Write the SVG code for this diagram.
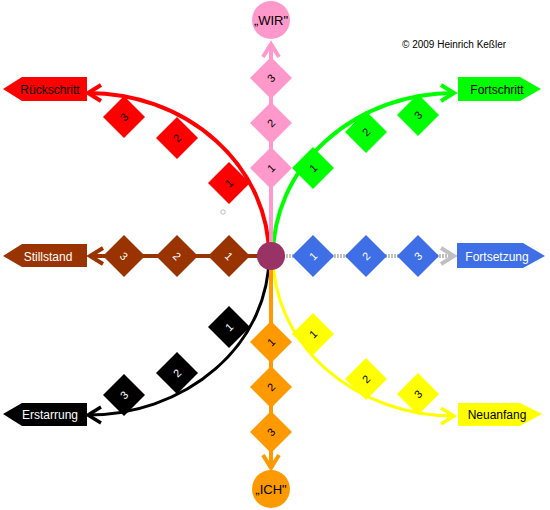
<svg xmlns="http://www.w3.org/2000/svg" xmlns:xlink="http://www.w3.org/1999/xlink" width="550" height="510" viewBox="0 0 550 510">
<style>
text{font-family:"Liberation Sans",Arial,sans-serif;}
.num{font-size:11px;text-anchor:middle;}
.lbl{font-size:12px;text-anchor:middle;}
.w{fill:#fff;}
.k{fill:#000;}
.c{fill:none;stroke-linecap:butt;}
</style>
<defs>
<polygon id="dia" points="0,-21 21,0 0,21 -21,0"/>
<marker id="mRed" markerUnits="userSpaceOnUse" viewBox="-20 -15 30 30" markerWidth="30" markerHeight="30" refX="0" refY="0" orient="auto" overflow="visible"><path d="M-13,-8 L0,0 L-13,8" fill="none" stroke="#FF0000" stroke-width="4"/></marker>
<marker id="mGreen" markerUnits="userSpaceOnUse" viewBox="-20 -15 30 30" markerWidth="30" markerHeight="30" refX="0" refY="0" orient="auto" overflow="visible"><path d="M-13,-8 L0,0 L-13,8" fill="none" stroke="#00FF00" stroke-width="4"/></marker>
<marker id="mBlack" markerUnits="userSpaceOnUse" viewBox="-20 -15 30 30" markerWidth="30" markerHeight="30" refX="0" refY="0" orient="auto" overflow="visible"><path d="M-13,-8 L0,0 L-13,8" fill="none" stroke="#000000" stroke-width="3.5"/></marker>
<marker id="mYellow" markerUnits="userSpaceOnUse" viewBox="-20 -15 30 30" markerWidth="30" markerHeight="30" refX="0" refY="0" orient="auto" overflow="visible"><path d="M-13,-8 L0,0 L-13,8" fill="none" stroke="#FFFF00" stroke-width="3.5"/></marker>
<marker id="mPink" markerUnits="userSpaceOnUse" viewBox="-20 -15 30 30" markerWidth="30" markerHeight="30" refX="0" refY="0" orient="auto" overflow="visible"><path d="M-13,-8 L0,0 L-13,8" fill="none" stroke="#FF99CC" stroke-width="4"/></marker>
<marker id="mOrange" markerUnits="userSpaceOnUse" viewBox="-20 -15 30 30" markerWidth="30" markerHeight="30" refX="0" refY="0" orient="auto" overflow="visible"><path d="M-13,-8 L0,0 L-13,8" fill="none" stroke="#FF9900" stroke-width="4"/></marker>
<marker id="mBrown" markerUnits="userSpaceOnUse" viewBox="-20 -15 30 30" markerWidth="30" markerHeight="30" refX="0" refY="0" orient="auto" overflow="visible"><path d="M-13,-8 L0,0 L-13,8" fill="none" stroke="#993300" stroke-width="4"/></marker>
<marker id="mGray" markerUnits="userSpaceOnUse" viewBox="-20 -15 30 30" markerWidth="30" markerHeight="30" refX="0" refY="0" orient="auto" overflow="visible"><path d="M-13,-8 L0,0 L-13,8" fill="none" stroke="#C0C0C0" stroke-width="4"/></marker>
</defs>

<rect width="550" height="510" fill="#fff"/>

<g id="connectors">
<path class="c" d="M269,256 A181,163 0 0 0 88,93" stroke="#FF0000" stroke-width="4" marker-end="url(#mRed)"/>
<path class="c" d="M273,256 A181,163 0 0 1 454,93" stroke="#00FF00" stroke-width="4" marker-end="url(#mGreen)"/>
<path class="c" d="M269,256 A181,159 0 0 1 88,415" stroke="#000000" stroke-width="3" marker-end="url(#mBlack)"/>
<path class="c" d="M273,256 A181,160 0 0 0 454,416" stroke="#FFFF00" stroke-width="3" marker-end="url(#mYellow)"/>
<path class="c" d="M271,256 L271,44" stroke="#FF99CC" stroke-width="4" marker-end="url(#mPink)"/>
<path class="c" d="M271,256 L271,468" stroke="#FF9900" stroke-width="4" marker-end="url(#mOrange)"/>
<path class="c" d="M271,256 L90,256" stroke="#993300" stroke-width="4" marker-end="url(#mBrown)"/>
<path class="c" d="M271,256 L454,256" stroke="#C0C0C0" stroke-width="4" stroke-dasharray="2 1" marker-end="url(#mGray)"/>
</g>

<g id="copyright"><text x="402" y="48" font-size="10" fill="#000">© 2009 Heinrich Keßler</text></g>
<circle cx="223" cy="212" r="2.2" fill="none" stroke="#BBBBBB" stroke-width="1"/>

<!-- labels -->
<g id="label-rueckschritt"><polygon points="3,89 22,77 87,77 87,101 22,101" fill="#FF0000"/><text class="lbl k" x="50" y="93.5">Rückschritt</text></g>
<g id="label-stillstand"><polygon points="3,256 22,244 87,244 87,267 22,267" fill="#993300"/><text class="lbl w" x="48" y="260.5">Stillstand</text></g>
<g id="label-erstarrung"><polygon points="3,414 22,403 87,403 87,426 22,426" fill="#000000"/><text class="lbl w" x="50" y="418.5">Erstarrung</text></g>
<g id="label-fortschritt"><polygon points="458,77 520,77 541,89 520,101 458,101" fill="#00FF00"/><text class="lbl k" x="497" y="93.5">Fortschritt</text></g>
<g id="label-fortsetzung"><polygon points="457,243 523,243 545,256 523,268 457,268" fill="#3F6FE6"/><text class="lbl w" x="497" y="260.5">Fortsetzung</text></g>
<g id="label-neuanfang"><polygon points="458,403 520,403 542,414 520,426 458,426" fill="#FFFF00"/><text class="lbl k" x="497" y="418.5">Neuanfang</text></g>

<g id="wir"><circle cx="271" cy="20" r="19" fill="#FF99CC"/><text x="271" y="24.5" font-size="13" text-anchor="middle" fill="#000">„WIR"</text></g>
<g id="ich"><circle cx="271" cy="489" r="19" fill="#FF9900"/><text x="271" y="493.5" font-size="13" text-anchor="middle" fill="#000">„ICH"</text></g>

<!-- pink -->
<g id="pink-1" transform="translate(271,168)"><use href="#dia" fill="#FF99CC"/><text class="num k" transform="rotate(-45)" dy="4">1</text></g>
<g id="pink-2" transform="translate(271,123)"><use href="#dia" fill="#FF99CC"/><text class="num k" transform="rotate(-45)" dy="4">2</text></g>
<g id="pink-3" transform="translate(271,78)"><use href="#dia" fill="#FF99CC"/><text class="num k" transform="rotate(-45)" dy="4">3</text></g>
<!-- green -->
<g id="green-1" transform="translate(313,168)"><use href="#dia" fill="#00FF00"/><text class="num k" transform="rotate(-45)" dy="4">1</text></g>
<g id="green-2" transform="translate(366,132)"><use href="#dia" fill="#00FF00"/><text class="num k" transform="rotate(-45)" dy="4">2</text></g>
<g id="green-3" transform="translate(418,115)"><use href="#dia" fill="#00FF00"/><text class="num k" transform="rotate(-45)" dy="4">3</text></g>
<!-- red -->
<g id="red-1" transform="translate(229,183)"><use href="#dia" fill="#FF0000"/><text class="num k" transform="rotate(-45)" dy="4">1</text></g>
<g id="red-2" transform="translate(177,138)"><use href="#dia" fill="#FF0000"/><text class="num k" transform="rotate(-45)" dy="4">2</text></g>
<g id="red-3" transform="translate(124,117)"><use href="#dia" fill="#FF0000"/><text class="num k" transform="rotate(-45)" dy="4">3</text></g>
<!-- brown -->
<g id="brown-1" transform="translate(229,256)"><use href="#dia" fill="#993300"/><text class="num w" transform="rotate(45)" dy="4">1</text></g>
<g id="brown-2" transform="translate(177,256)"><use href="#dia" fill="#993300"/><text class="num w" transform="rotate(45)" dy="4">2</text></g>
<g id="brown-3" transform="translate(124,256)"><use href="#dia" fill="#993300"/><text class="num w" transform="rotate(45)" dy="4">3</text></g>
<!-- blue -->
<g id="blue-1" transform="translate(313,256)"><use href="#dia" fill="#3F6FE6"/><text class="num w" transform="rotate(-45)" dy="4">1</text></g>
<g id="blue-2" transform="translate(366,256)"><use href="#dia" fill="#3F6FE6"/><text class="num w" transform="rotate(-45)" dy="4">2</text></g>
<g id="blue-3" transform="translate(418,256)"><use href="#dia" fill="#3F6FE6"/><text class="num w" transform="rotate(-45)" dy="4">3</text></g>
<!-- black -->
<g id="black-1" transform="translate(229,327)"><use href="#dia" fill="#000000"/><text class="num w" transform="rotate(-45)" dy="4">1</text></g>
<g id="black-2" transform="translate(177,373)"><use href="#dia" fill="#000000"/><text class="num w" transform="rotate(-45)" dy="4">2</text></g>
<g id="black-3" transform="translate(124,395)"><use href="#dia" fill="#000000"/><text class="num w" transform="rotate(-45)" dy="4">3</text></g>
<!-- yellow -->
<g id="yellow-1" transform="translate(313,334)"><use href="#dia" fill="#FFFF00"/><text class="num k" transform="rotate(-45)" dy="4">1</text></g>
<g id="yellow-2" transform="translate(366,379)"><use href="#dia" fill="#FFFF00"/><text class="num k" transform="rotate(-45)" dy="4">2</text></g>
<g id="yellow-3" transform="translate(418,394)"><use href="#dia" fill="#FFFF00"/><text class="num k" transform="rotate(-45)" dy="4">3</text></g>
<!-- orange -->
<g id="orange-1" transform="translate(271,342)"><use href="#dia" fill="#FF9900"/><text class="num k" transform="rotate(-45)" dy="4">1</text></g>
<g id="orange-2" transform="translate(271,387)"><use href="#dia" fill="#FF9900"/><text class="num k" transform="rotate(-45)" dy="4">2</text></g>
<g id="orange-3" transform="translate(271,432)"><use href="#dia" fill="#FF9900"/><text class="num k" transform="rotate(-45)" dy="4">3</text></g>

<g id="center"><circle cx="271" cy="256" r="14" fill="#993366"/></g>
</svg>
